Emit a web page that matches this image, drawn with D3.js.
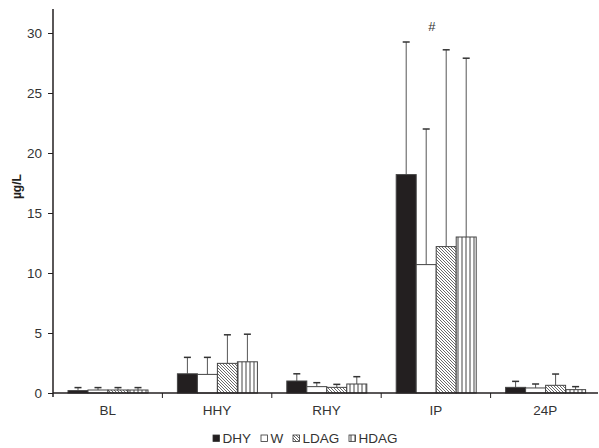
<!DOCTYPE html>
<html>
  <head>
    <meta charset="utf-8">
    <title>µg/L by phase</title>
    <script src="https://d3js.org/d3.v7.min.js"></script>
    <style>
      body { margin: 0; background: #fff; }
      svg { font-family: "Liberation Sans", Arial, sans-serif; }
    </style>
  </head>
  <body>
    <svg id="chart" width="599" height="448"></svg>
    <script>
      // data
      categories = ["BL", "HHY", "RHY", "IP", "24P"];
      groups = ["DHY", "W", "LDAG", "HDAG"];
      means = {
        DHY:  [0.2, 1.6, 1.0, 18.2, 0.47],
        W:    [0.25, 1.55, 0.53, 10.7, 0.42],
        LDAG: [0.25, 2.47, 0.47, 12.2, 0.64],
        HDAG: [0.25, 2.6, 0.75, 13.0, 0.28]
      };
      errTops = {
        DHY:  [0.45, 2.97, 1.6, 29.25, 0.97],
        W:    [0.45, 2.97, 0.86, 22.0, 0.75],
        LDAG: [0.45, 4.85, 0.72, 28.6, 1.58],
        HDAG: [0.45, 4.9, 1.36, 27.9, 0.53]
      };
      yTicks = [0, 5, 10, 15, 20, 25, 30];
      yLabel = "µg/L";
      marker = { category: "IP", text: "#" };

      svg = d3.select("#chart");
      ink = "#231f20";

      // patterns
      defs = svg.append("defs");
      hatch = defs.append("pattern")
        .attr("id", "hatchLDAG")
        .attr("patternUnits", "userSpaceOnUse")
        .attr("width", 3).attr("height", 3);
      hatch.append("rect").attr("width", 3).attr("height", 3).attr("fill", "#fff");
      hatch.append("path")
        .attr("d", "M-1,-1 L4,4 M-1,2 L1,4 M2,-1 L4,1")
        .attr("stroke", "#444").attr("stroke-width", 0.8);
      stripes = defs.append("pattern")
        .attr("id", "stripeHDAG")
        .attr("patternUnits", "userSpaceOnUse")
        .attr("width", 4).attr("height", 4);
      stripes.append("rect").attr("width", 4).attr("height", 4).attr("fill", "#fff");
      stripes.append("path")
        .attr("d", "M2,0 L2,4")
        .attr("stroke", "#444").attr("stroke-width", 1);
      fills = { DHY: ink, W: "#fff", LDAG: "url(#hatchLDAG)", HDAG: "url(#stripeHDAG)" };

      // scales
      x = d3.scaleBand().domain(categories).range([53, 600]);
      inner = d3.scaleBand().domain(groups).range([15, 95]);
      y = d3.scaleLinear().domain([0, 32]).range([393, 9]);

      // y axis
      yAxis = svg.append("g")
        .attr("transform", "translate(53,0)")
        .call(d3.axisLeft(y).tickValues(yTicks).tickSize(5).tickPadding(6));
      yAxis.select(".domain").attr("d", "M0," + y(32) + "V" + (y(0) + 4))
        .attr("stroke", ink).attr("stroke-width", 1.5);
      yAxis.selectAll(".tick line").attr("stroke", ink);
      yAxis.selectAll("text").attr("font-size", 13.5).attr("fill", "#333")
        .style("font-family", "'Liberation Sans', Arial, sans-serif");

      svg.append("text")
        .attr("transform", "translate(21," + y(17.2) + ") rotate(-90)")
        .attr("text-anchor", "middle")
        .attr("font-size", 12)
        .attr("font-weight", "bold")
        .attr("fill", ink)
        .text(yLabel);

      // bars
      rows = [];
      categories.forEach(function(c, i) {
        groups.forEach(function(g) {
          rows.push({ category: c, group: g, value: means[g][i], err: errTops[g][i] });
        });
      });
      bars = svg.append("g").selectAll("g")
        .data(rows)
        .enter().append("g");
      bars.append("line")
        .attr("x1", function(d) { return x(d.category) + inner(d.group) + inner.bandwidth() / 2; })
        .attr("x2", function(d) { return x(d.category) + inner(d.group) + inner.bandwidth() / 2; })
        .attr("y1", function(d) { return y(d.value); })
        .attr("y2", function(d) { return y(d.err); })
        .attr("stroke", "#555").attr("stroke-width", 1);
      bars.append("line")
        .attr("x1", function(d) { return x(d.category) + inner(d.group) + inner.bandwidth() / 2 - 3.5; })
        .attr("x2", function(d) { return x(d.category) + inner(d.group) + inner.bandwidth() / 2 + 3.5; })
        .attr("y1", function(d) { return y(d.err); })
        .attr("y2", function(d) { return y(d.err); })
        .attr("stroke", "#333").attr("stroke-width", 1.5);
      bars.append("rect")
        .attr("x", function(d) { return x(d.category) + inner(d.group); })
        .attr("y", function(d) { return y(d.value); })
        .attr("width", inner.bandwidth())
        .attr("height", function(d) { return y(0) - y(d.value); })
        .attr("fill", function(d) { return fills[d.group]; })
        .attr("stroke", "#444").attr("stroke-width", 1);

      // x axis
      xAxis = svg.append("g")
        .attr("transform", "translate(0," + y(0) + ")");
      xAxis.append("line")
        .attr("x1", 53).attr("x2", 598)
        .attr("stroke", ink).attr("stroke-width", 1.5);
      xAxis.selectAll(".sep")
        .data(categories.slice(1))
        .enter().append("line")
        .attr("x1", function(d) { return x(d); })
        .attr("x2", function(d) { return x(d); })
        .attr("y1", 0).attr("y2", 5)
        .attr("stroke", ink);
      xAxis.selectAll(".lab")
        .data(categories)
        .enter().append("text")
        .attr("x", function(d) { return x(d) + x.bandwidth() / 2; })
        .attr("y", 22)
        .attr("text-anchor", "middle")
        .attr("font-size", 13.5)
        .attr("fill", "#333")
        .text(function(d) { return d; });

      // significance marker
      svg.append("text")
        .attr("x", x(marker.category) + x.bandwidth() / 2 - 4)
        .attr("y", 31)
        .attr("text-anchor", "middle")
        .attr("font-size", 13)
        .attr("fill", "#333")
        .text(marker.text);

      // legend
      legendX = { DHY: 213, W: 261, LDAG: 293, HDAG: 349 };
      legend = svg.append("g").selectAll("g")
        .data(groups)
        .enter().append("g")
        .attr("transform", function(d) { return "translate(" + legendX[d] + ",435)"; });
      legend.append("rect")
        .attr("width", 6.5).attr("height", 6.5)
        .attr("fill", function(d) { return fills[d]; })
        .attr("stroke", "#333").attr("stroke-width", 0.8);
      legend.append("text")
        .attr("x", 9.5).attr("y", 7.5)
        .attr("font-size", 13.5)
        .attr("fill", "#333")
        .text(function(d) { return d; });
    </script>
  </body>
</html>
